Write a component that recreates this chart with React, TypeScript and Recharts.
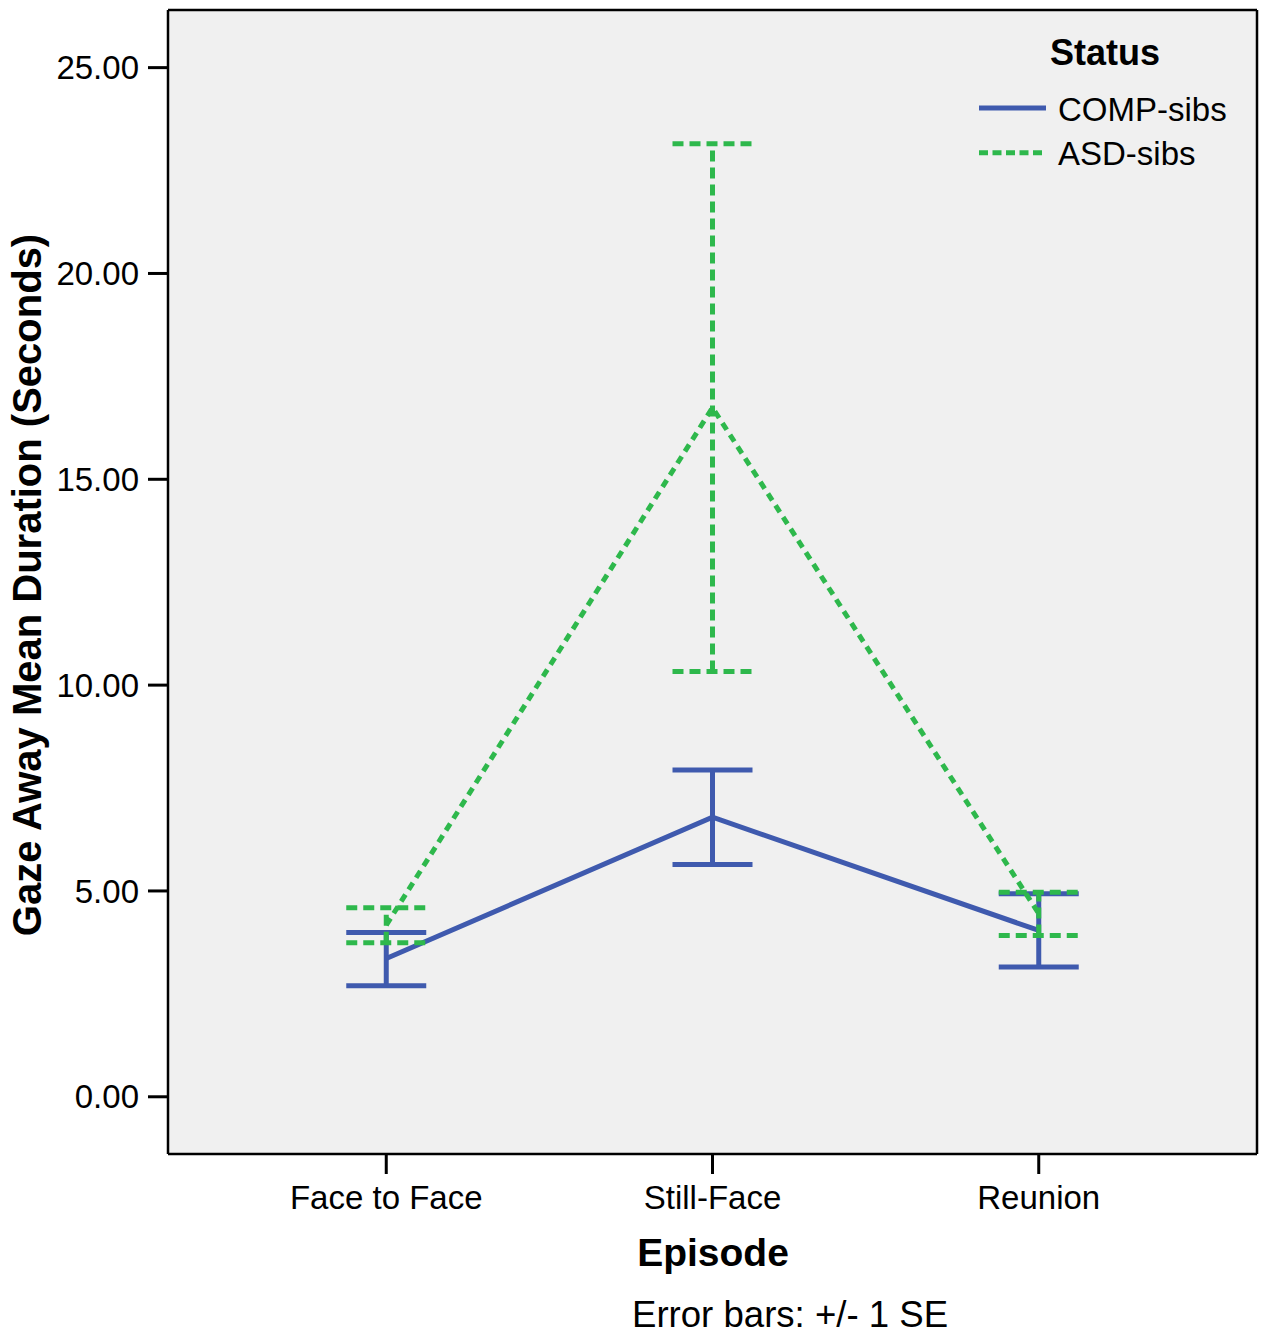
import React from 'react';
import { LineChart, Line, XAxis, YAxis, ErrorBar, CartesianGrid, Legend, Label } from 'recharts';

const episodes = ['Face to Face', 'Still-Face', 'Reunion'];
const seriesNames = ['COMP-sibs', 'ASD-sibs'];
const compMean = [3.36, 6.79, 4.04];
const compLow = [2.7, 5.64, 3.15];
const compHigh = [3.99, 7.94, 4.93];
const asdMean = [4.17, 16.74, 4.45];
const asdLow = [3.74, 10.33, 3.92];
const asdHigh = [4.59, 23.15, 4.97];
const yTicks = [0, 5, 10, 15, 20, 25];
const xTicks = [1, 2, 3];

const BLUE = '#3f5aae';
const GREEN = '#2eb84c';
const FONT = '"Liberation Sans", Arial, Helvetica, sans-serif';

const data = episodes.map((name, i) => ({
  x: i + 1,
  name,
  comp: compMean[i],
  compErr: [compMean[i] - compLow[i], compHigh[i] - compMean[i]],
  asd: asdMean[i],
  asdErr: [asdMean[i] - asdLow[i], asdHigh[i] - asdMean[i]],
}));

const Y_DOMAIN: [number, number] = [-1.39, 26.4];
const X_DOMAIN: [number, number] = [0.331, 3.669];

const LegendContent = (props: any) => {
  const payload = [...(props.payload || [])].sort(
    (a: any, b: any) => seriesNames.indexOf(a.value) - seriesNames.indexOf(b.value)
  );
  return (
    <svg width={300} height={170} style={{ overflow: 'visible' }}>
      <text x={145} y={45} textAnchor="middle" fontFamily={FONT} fontWeight="bold" fontSize={36} fill="#000">
        Status
      </text>
      {payload.map((p: any, i: number) => {
        const y = 88 + i * 44.7;
        const dash = p.payload && p.payload.strokeDasharray;
        return (
          <g key={i}>
            <line x1={19} x2={86} y1={y} y2={y} stroke={p.color} strokeWidth={5} strokeDasharray={dash ? '9 4.5' : undefined} />
            <text x={98} y={y + 12.5} fontFamily={FONT} fontSize={33} fill="#000">
              {p.value}
            </text>
          </g>
        );
      })}
    </svg>
  );
};

export default function App() {
  return (
    <div style={{ position: 'absolute', left: 0, top: 0 }}>
      <LineChart width={1265} height={1337} data={data} margin={{ top: 0, right: 0, bottom: 0, left: 0 }}>
        <CartesianGrid fill="#f0f0f0" horizontal={false} vertical={false} />
        <XAxis
          dataKey="x"
          type="number"
          domain={X_DOMAIN}
          ticks={xTicks}
          allowDataOverflow
          tickFormatter={(v: number) => episodes[v - 1]}
          height={183}
          tickSize={20}
          tickMargin={12}
          stroke="#000"
          strokeWidth={2}
          tickLine={{ stroke: '#000', strokeWidth: 3 }}
          axisLine={{ stroke: '#000', strokeWidth: 2.5 }}
          tick={{ fontSize: 33, fill: '#000', fontFamily: FONT }}
        >
          <Label
            content={() => (
              <g>
                <text x={713} y={1266} textAnchor="middle" fontFamily={FONT} fontWeight="bold" fontSize={39} fill="#000">
                  Episode
                </text>
                <text x={632} y={1327} fontFamily={FONT} fontSize={36.6} fill="#000">
                  Error bars: +/- 1 SE
                </text>
              </g>
            )}
          />
        </XAxis>
        <XAxis
          xAxisId="top"
          orientation="top"
          type="number"
          domain={X_DOMAIN}
          allowDataOverflow
          height={10}
          tick={false}
          tickLine={false}
          axisLine={{ stroke: '#000', strokeWidth: 2.5 }}
        />
        <YAxis
          type="number"
          domain={Y_DOMAIN}
          ticks={yTicks}
          allowDataOverflow
          width={168}
          tickSize={20}
          tickMargin={9}
          tickFormatter={(v: number) => v.toFixed(2)}
          tickLine={{ stroke: '#000', strokeWidth: 3 }}
          axisLine={{ stroke: '#000', strokeWidth: 2.5 }}
          tick={{ fontSize: 33, fill: '#000', fontFamily: FONT }}
        >
          <Label
            content={() => (
              <text
                x={41}
                y={585}
                transform="rotate(-90, 41, 585)"
                textAnchor="middle"
                fontFamily={FONT}
                fontWeight="bold"
                fontSize={40}
                fill="#000"
              >
                Gaze Away Mean Duration (Seconds)
              </text>
            )}
          />
        </YAxis>
        <YAxis
          yAxisId="right"
          orientation="right"
          type="number"
          domain={Y_DOMAIN}
          allowDataOverflow
          width={8}
          tick={false}
          tickLine={false}
          axisLine={{ stroke: '#000', strokeWidth: 2.5 }}
        />
        <Legend
          layout="horizontal"
          verticalAlign="middle"
          align="center"
          wrapperStyle={{ left: 960, top: 20, width: 300, height: 170 }}
          content={<LegendContent />}
        />
        <Line
          name="COMP-sibs"
          dataKey="comp"
          stroke={BLUE}
          strokeWidth={5}
          dot={false}
          activeDot={false}
          isAnimationActive={false}
        >
          <ErrorBar dataKey="compErr" width={40} stroke={BLUE} strokeWidth={5} direction="y" />
        </Line>
        <Line
          name="ASD-sibs"
          dataKey="asd"
          stroke={GREEN}
          strokeWidth={5}
          strokeDasharray="8 6"
          dot={false}
          activeDot={false}
          isAnimationActive={false}
        >
          <ErrorBar dataKey="asdErr" width={40} stroke={GREEN} strokeWidth={5} strokeDasharray="11 6" direction="y" />
        </Line>
      </LineChart>
    </div>
  );
}
